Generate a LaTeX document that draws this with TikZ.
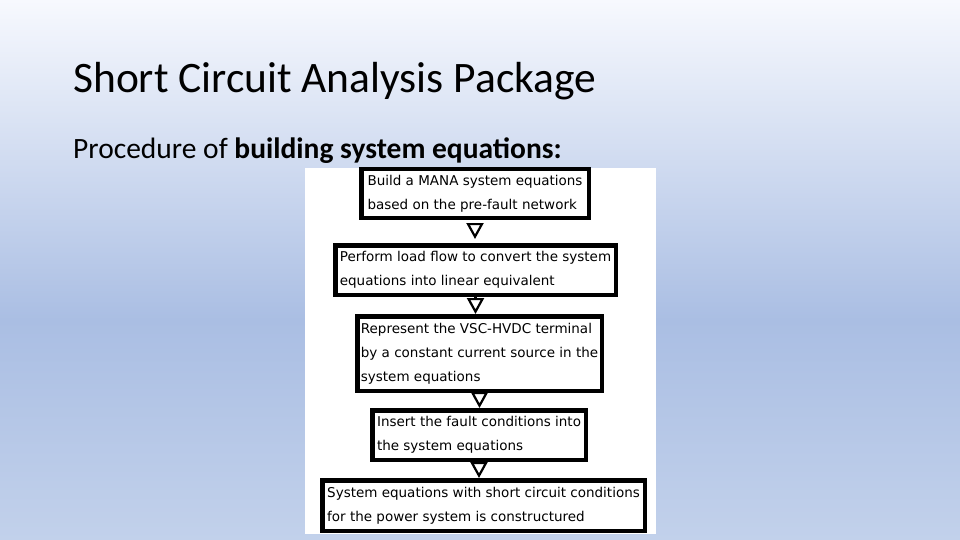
\documentclass[tikz,border=0pt]{standalone}
\usepackage{fontspec}
\setmainfont{Carlito}
\newfontfamily\flowfont{DejaVu Sans}
\usetikzlibrary{arrows.meta}
\definecolor{slidetop}{HTML}{F7F9FE}
\definecolor{slidemid}{HTML}{AABEE3}
\definecolor{slidebot}{HTML}{C2D1EB}

\begin{document}
\begin{tikzpicture}[x=1pt,y=-1pt,
    stepbox/.style={draw,line width=4.5pt,align=left,inner sep=0pt,
      font=\flowfont\fontsize{13.5}{24}\selectfont},
    flow/.style={line width=2.2pt,-{Triangle[open,length=16pt,width=17pt]}}]
  \useasboundingbox (0,0) rectangle (960,540);
  \shade[top color=slidetop,bottom color=slidemid] (0,0) rectangle (960,320);
  \shade[top color=slidemid,bottom color=slidebot] (0,320) rectangle (960,540);
  \fill[white] (305,168) rectangle (656,534);

  \node[anchor=base west,inner sep=0pt,font=\fontsize{43.5}{50}\selectfont] (title) at (73,93) {Short Circuit Analysis Package};
  \node[anchor=base west,inner sep=0pt,font=\fontsize{29.5}{34}\selectfont] (sub) at (73,159) {Procedure of \textbf{building system equations:}};

  \node[stepbox,minimum width=227.5pt,minimum height=48.5pt] (1) at (475,193.5) {Build a MANA system equations\\based on the pre-fault network};
  \node[stepbox,minimum width=280.5pt,minimum height=49.5pt] (2) at (475.5,270) {Perform load flow to convert the system\\equations into linear equivalent};
  \node[stepbox,minimum width=244.5pt,minimum height=74.5pt] (3) at (479.5,353.5) {Represent the VSC-HVDC terminal\\by a constant current source in the\\system equations};
  \node[stepbox,minimum width=213.5pt,minimum height=49.5pt] (4) at (479,435) {Insert the fault conditions into\\the system equations};
  \node[stepbox,minimum width=322.5pt,minimum height=50.5pt] (5) at (483.5,505.5) {System equations with short circuit conditions\\for the power system is constructured};

  \draw[flow,shorten <=3pt,shorten >=4pt] (1.south) -- (1.south |- 2.north);
  \draw[flow] (2.south) -- (2.south |- 3.north);
  \draw[flow] (3.south) -- (3.south |- 4.north);
  \draw[flow] (4.south) -- (4.south |- 5.north);
\end{tikzpicture}
\end{document}
